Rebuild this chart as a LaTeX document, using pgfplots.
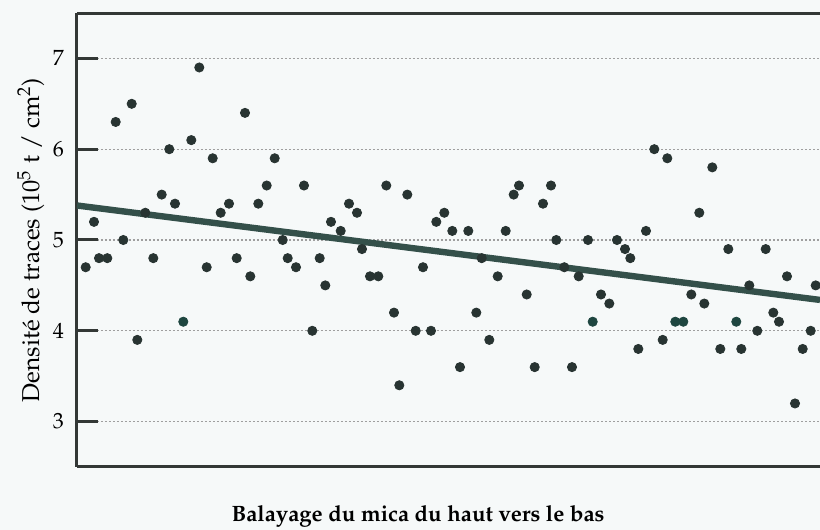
\documentclass[border=0pt]{standalone}
\usepackage[T1]{fontenc}
\usepackage{mathpazo}
\usepackage{pgfplots}
\pgfplotsset{compat=1.18}
\definecolor{bg}{HTML}{F6F9F9}
\definecolor{dotc}{HTML}{283432}
\definecolor{tealc}{HTML}{1E4640}
\definecolor{linec}{HTML}{34504A}
\definecolor{axc}{HTML}{333836}
\begin{document}
\begin{tikzpicture}
\fill[bg] (-38.5pt,-31.5pt) rectangle (371.5pt,233.5pt);
\begin{axis}[
  at={(0,0)}, anchor=south west,
  scale only axis, width=371.5pt, height=227pt,
  xmin=77, xmax=820, ymin=2.5, ymax=7.5,
  axis x line=box, axis y line=left,
  y axis line style={-},
  axis line style={line width=1.5pt, color=axc},
  xtick=\empty,
  ytick={3,4,5,6,7},
  tick align=inside,
  major tick length=10.5pt,
  tick style={line width=1.5pt, color=axc},
  ymajorgrids,
  grid style={dash pattern=on 0.8pt off 1.2pt, color=gray!75, line width=0.6pt},
  yticklabel style={font=\fontsize{11}{13}\selectfont, xshift=-3pt},
  ylabel={Densité de traces (10$^5$ t / cm$^2$)},
  ylabel style={at={(axis description cs:-0.0511,0.5)}, anchor=base, font=\fontsize{12.2}{14}\selectfont},
  xlabel={Balayage du mica du haut vers le bas},
  xlabel style={at={(axis description cs:0.459,0)}, anchor=base, yshift=-27.5pt, font=\fontsize{11.1}{13}\selectfont\bfseries},
  clip=true,
]
\addplot[only marks, mark=*, mark size=2.3pt, color=dotc, mark options={fill=dotc, draw=dotc}] coordinates {
(85.7,4.7) (94,5.2) (99,4.8) (107.3,4.8) (115.7,6.3) (123.3,5.0) (131.7,6.5) (137.3,3.9)
(145.3,5.3) (153.3,4.8) (161.7,5.5) (169.3,6.0) (175,5.4) (191.3,6.1) (199.3,6.9) (206.7,4.7)
(212.7,5.9) (220.7,5.3) (229,5.4) (236.7,4.8) (245,6.4) (250.3,4.6) (258.3,5.4) (266.7,5.6)
(274.7,5.9) (282.7,5.0) (287.7,4.8) (296,4.7) (304,5.6) (312.3,4.0) (319.7,4.8) (325.3,4.5)
(331,5.2) (340.7,5.1) (349,5.4) (357,5.3) (362,4.9) (370,4.6) (378.3,4.6) (386.3,5.6)
(394,4.2) (399.3,3.4) (407.3,5.5) (415.7,4.0) (423,4.7) (431,4.0) (436.3,5.2) (444.3,5.3)
(452.3,5.1) (460,3.6) (468.3,5.1) (476.3,4.2) (481.7,4.8) (489.3,3.9) (497.7,4.6) (505.7,5.1)
(513.7,5.5) (519,5.6) (526.7,4.4) (534.7,3.6) (543,5.4) (551,5.6) (556.3,5.0) (564.3,4.7)
(572,3.6) (578.7,4.6) (588,5.0) (601,4.4) (609.3,4.3) (617,5.0) (625,4.9) (630.3,4.8)
(638.3,3.8) (646,5.1) (654.3,6.0) (662.7,3.9) (667.3,5.9) (691.3,4.4) (699.3,5.3) (704.3,4.3)
(712.3,5.8) (720.3,3.8) (728.3,4.9) (741.3,3.8) (749.3,4.5) (757.3,4.0) (765.7,4.9) (773.3,4.2)
(779,4.1) (787,4.6) (795,3.2) (802.7,3.8) (810.7,4.0) (815.7,4.5) (822,5.8)
};
\addplot[only marks, mark=*, mark size=2.3pt, color=tealc, mark options={fill=tealc, draw=tealc}] coordinates {
(183.3,4.1) (592.7,4.1) (675.3,4.1) (683.3,4.1) (736.3,4.1)
};
\addplot[line width=3.2pt, color=linec] coordinates {(77,5.38) (820,4.34)};
\end{axis}
\pgfresetboundingbox
\useasboundingbox (-38.5pt,-31.5pt) rectangle (371.5pt,233.5pt);
\end{tikzpicture}
\end{document}
